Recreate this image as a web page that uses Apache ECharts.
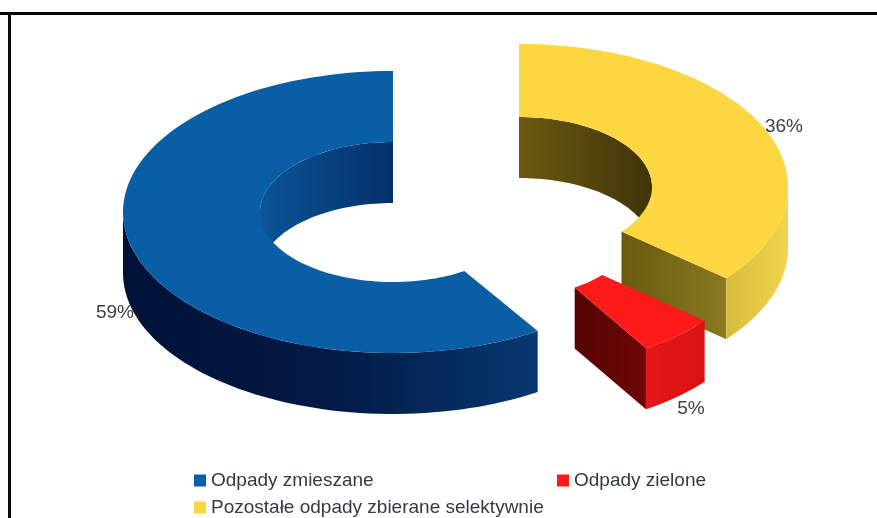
<!DOCTYPE html>
<html>
<head>
<meta charset="utf-8">
<style>
html,body{margin:0;padding:0;background:#fff;overflow:hidden}
#chart{width:877px;height:518px;filter:blur(0.5px)}
</style>
<script src="https://cdn.jsdelivr.net/npm/echarts@6/dist/echarts.min.js"></script>
</head>
<body>
<div id="chart"></div>
<script>
// Data
const categories = ['Odpady zmieszane', 'Odpady zielone', 'Pozostałe odpady zbierane selektywnie'];
const shares = [59, 5, 36];
const percentLabels = ['59%', '5%', '36%'];

// Look of each slice (no data here)
const topColors = ['#0a5ea6', '#ff1a1a', '#fdd741'];
const innerWallColors = [['#0b5597', '#03306a'], ['#7a0808', '#7a0808'], ['#6b5a12', '#3f3508']];
const cutWallColors = [['#03306a', '#03306a'], ['#560404', '#6e0606'], ['#6b5a10', '#8a7a20']];
const outerWallColors = [['#021237', '#021a45', '#06386f'], ['#e41818', '#d81212'], ['#d9bb3c', '#f0d44e']];
const centers = [[393, 212], [512, 236], [519, 187]];
const radii = [[270, 141, 133, 70], [250, 133, 117, 61], [269, 143, 133, 70]];
const labelSpots = [[115, 313], [691, 409], [784, 127]];
const depth = 61;
const paintOrder = [0, 2, 1];
const legendSpots = [[194, 471], [557, 471], [194, 498]];

// Slices run counter-clockwise from 12 o'clock, in the order of the arrays.
const total = shares.reduce((a, b) => a + b, 0);
const spans = [];
let run = 360;
shares.forEach(v => { const next = run - v / total * 360; spans.push([next, run]); run = next; });

const rad = d => d * Math.PI / 180;
function pt(c, rx, ry, deg, drop) {
  return [c[0] + rx * Math.sin(rad(deg)), c[1] - ry * Math.cos(rad(deg)) + (drop || 0)];
}
function arc(c, rx, ry, a, b, drop) {
  const out = [], n = Math.max(2, Math.ceil(Math.abs(b - a) / 2));
  for (let i = 0; i <= n; i++) out.push(pt(c, rx, ry, a + (b - a) * i / n, drop));
  return out;
}
function grad(cols) {
  return { type: 'linear', x: 0, y: 0, x2: 1, y2: 0,
    colorStops: cols.map((color, i) => ({ offset: i / (cols.length - 1), color })) };
}
function wall(c, rx, ry, a, b, fill) {
  return { type: 'polygon',
    shape: { points: arc(c, rx, ry, a, b, 0).concat(arc(c, rx, ry, b, a, depth)) },
    style: { fill: grad(fill), stroke: null } };
}
function sliceItem(i) {
  const [start, end] = spans[i], c = centers[i], [ro, roy, ri, riy] = radii[i];
  const kids = [];
  // inner wall: far half of the hole
  [[0, 90], [270, 360]].forEach(([lo, hi]) => {
    const a = Math.max(start, lo), b = Math.min(end, hi);
    if (b > a) kids.push(wall(c, ri, riy, a, b, innerWallColors[i]));
  });
  // cut faces turned to the viewer
  [start, end].forEach((ang, k) => {
    const s = Math.sin(rad(ang));
    if ((k === 1 && s > 0.01) || (k === 0 && s < -0.01)) {
      const p = pt(c, ri, riy, ang), q = pt(c, ro, roy, ang);
      kids.push({ type: 'polygon',
        shape: { points: [p, q, [q[0], q[1] + depth], [p[0], p[1] + depth]] },
        style: { fill: grad(cutWallColors[i]), stroke: null } });
    }
  });
  // outer wall: near half
  const oa = Math.max(start, 90), ob = Math.min(end, 270);
  if (ob > oa) kids.push(wall(c, ro, roy, oa, ob, outerWallColors[i]));
  // top face
  kids.push({ type: 'polygon',
    shape: { points: arc(c, ro, roy, start, end).concat(arc(c, ri, riy, end, start)) },
    style: { fill: topColors[i], stroke: null } });
  // percent label
  kids.push({ type: 'text', z2: 10,
    style: { x: labelSpots[i][0], y: labelSpots[i][1], text: percentLabels[i],
      fill: '#3a4048', font: '19px "Liberation Sans"', textAlign: 'center', textVerticalAlign: 'middle' } });
  return { type: 'group', children: kids };
}

const series = paintOrder.map(i => ({
  type: 'custom',
  name: categories[i],
  coordinateSystem: 'none',
  silent: true,
  data: [shares[i]],
  itemStyle: { color: topColors[i] },
  renderItem: () => sliceItem(i)
}));

const legends = categories.map((name, i) => ({
  data: [name], left: legendSpots[i][0], top: legendSpots[i][1], padding: 0,
  selectedMode: false, icon: 'rect', itemWidth: 12, itemHeight: 12,
  textStyle: { fontFamily: 'Liberation Sans', fontSize: 19, color: '#333a44' }
}));

const chart = echarts.init(document.getElementById('chart'), null, { renderer: 'canvas' });
chart.setOption({
  animation: false,
  backgroundColor: '#fff',
  legend: legends,
  graphic: [
    { type: 'line', shape: { x1: 0, y1: 13.5, x2: 877, y2: 13.5 }, style: { stroke: '#05080f', lineWidth: 3 } },
    { type: 'line', shape: { x1: 9.5, y1: 12, x2: 9.5, y2: 518 }, style: { stroke: '#05080f', lineWidth: 3 } }
  ],
  series
});
</script>
</body>
</html>
